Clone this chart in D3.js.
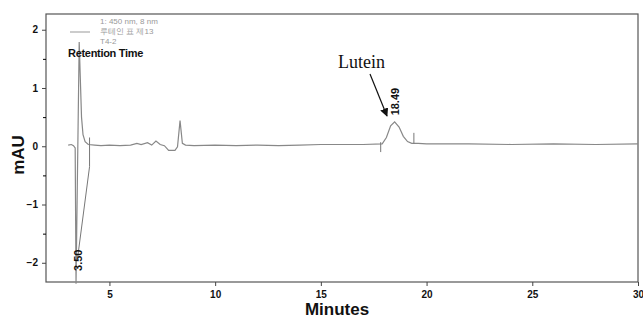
<!DOCTYPE html>
<html>
<head>
<meta charset="utf-8">
<script src="https://cdn.jsdelivr.net/npm/d3@7"></script>
<style>
  body { margin: 0; background: #fff; }
  text { font-family: "Liberation Sans", Arial, sans-serif; }
</style>
</head>
<body>
<div id="chart-area"></div>
<script>
// chromatogram trace: [minutes, mAU]
var trace = [
  [3.05, 0.02], [3.2, 0.03], [3.3, 0.01], [3.38, -0.03], [3.42, -2.36],
  [3.57, 1.79], [3.62, 1.2], [3.68, 0.5], [3.75, 0.2], [3.85, 0.08],
  [4.0, 0.03], [4.3, 0.02], [4.6, 0.01], [5.0, 0.02], [5.5, 0.01],
  [6.0, 0.02], [6.3, 0.05], [6.5, 0.03], [6.8, 0.06], [7.0, 0.02],
  [7.2, 0.09], [7.4, 0.03], [7.6, 0.01], [7.8, -0.07], [8.1, -0.07],
  [8.22, -0.01], [8.34, 0.44], [8.45, 0.05], [8.6, 0.02], [9.0, 0.01],
  [10, 0.02], [11, 0.01], [12, 0.02], [13, 0.01], [14, 0.02], [15, 0.03],
  [16, 0.03], [17, 0.03], [17.9, 0.04], [18.1, 0.15], [18.3, 0.35],
  [18.49, 0.42], [18.7, 0.33], [18.9, 0.17], [19.1, 0.08], [19.3, 0.05],
  [19.6, 0.05], [20, 0.04], [22, 0.04], [24, 0.03], [26, 0.04], [28, 0.03], [30, 0.04]
];

// integration markers drawn by the software
var markers = [
  [[3.5, -1.9], [4.06, -0.35], [4.06, 0.15]],
  [[17.83, 0.07], [17.83, -0.1]],
  [[19.4, 0.05], [19.4, 0.23]]
];

// peak labels
var peaks = [
  {time: 3.50, label: "3.50", y: -2.14},
  {time: 18.49, label: "18.49", y: 0.53}
];

var xTicks = [5, 10, 15, 20, 25, 30];
var yTicks = [-2, -1, 0, 1, 2];
var yMinor = [-1.5, -0.5, 0.5, 1.5];

var legendLines = ["1: 450 nm, 8 nm", "루테인 표 제13", "T4-2"];

var svg = d3.select("#chart-area").append("svg")
    .attr("width", 643)
    .attr("height", 320);

var x = d3.scaleLinear().domain([2, 30]).range([46, 638]);
var y = d3.scaleLinear().domain([-2.33, 2.27]).range([282, 14]);

// plot box
svg.append("rect")
    .attr("x", 46).attr("y", 14)
    .attr("width", 592).attr("height", 268)
    .attr("fill", "none")
    .attr("stroke", "#555")
    .attr("stroke-width", 1.2);

// axes
var xAxis = svg.append("g")
    .attr("transform", "translate(0,282)")
    .call(d3.axisBottom(x).tickValues(xTicks).tickSize(4).tickPadding(5));
var yAxis = svg.append("g")
    .attr("transform", "translate(46,0)")
    .call(d3.axisLeft(y).tickValues(yTicks).tickFormat(d3.format("d"))
        .tickSize(4).tickPadding(4));
svg.append("g")
    .attr("transform", "translate(46,0)")
    .call(d3.axisLeft(y).tickValues(yMinor).tickSize(3).tickFormat(""))
    .select(".domain").remove();

[xAxis, yAxis].forEach(function(a) {
    a.select(".domain").remove();
    a.selectAll("line").attr("stroke", "#444");
    a.selectAll("text")
        .attr("fill", "#111")
        .style("font-size", "10px")
        .style("font-weight", "bold");
});

// trace
var line = d3.line()
    .x(function(d) { return x(d[0]); })
    .y(function(d) { return y(d[1]); });

svg.append("path")
    .datum(trace)
    .attr("d", line)
    .attr("fill", "none")
    .attr("stroke", "#888")
    .attr("stroke-width", 1.2);

svg.selectAll(".marker")
    .data(markers)
    .enter()
    .append("path")
    .attr("class", "marker")
    .attr("d", line)
    .attr("fill", "none")
    .attr("stroke", "#777")
    .attr("stroke-width", 1);

// peak retention labels, rotated
svg.selectAll(".peak-label")
    .data(peaks)
    .enter()
    .append("text")
    .attr("class", "peak-label")
    .attr("transform", function(d) {
        return "translate(" + (x(d.time) + 4) + "," + y(d.y) + ") rotate(-90)";
    })
    .style("font-size", "11px")
    .style("font-weight", "bold")
    .attr("fill", "#111")
    .text(function(d) { return d.label; });

// Lutein annotation
svg.append("text")
    .attr("x", 338).attr("y", 68)
    .style("font-family", "'Liberation Serif', 'Times New Roman', serif")
    .style("font-size", "18px")
    .attr("fill", "#111")
    .text("Lutein");

svg.append("defs").append("marker")
    .attr("id", "arrow")
    .attr("viewBox", "0 0 10 10")
    .attr("refX", 9).attr("refY", 5)
    .attr("markerWidth", 7).attr("markerHeight", 7)
    .attr("orient", "auto")
    .append("path")
    .attr("d", "M0,0 L10,5 L0,10 z")
    .attr("fill", "#111");

svg.append("line")
    .attr("x1", 370).attr("y1", 74)
    .attr("x2", 387).attr("y2", 116)
    .attr("stroke", "#111")
    .attr("stroke-width", 1.2)
    .attr("marker-end", "url(#arrow)");

// legend block
svg.selectAll(".legend")
    .data(legendLines)
    .enter()
    .append("text")
    .attr("class", "legend")
    .attr("x", 100)
    .attr("y", function(d, i) { return 24 + i * 10; })
    .style("font-size", "8px")
    .attr("fill", "#999")
    .text(function(d) { return d; });

svg.append("line")
    .attr("x1", 70).attr("x2", 90)
    .attr("y1", 32).attr("y2", 32)
    .attr("stroke", "#999");

svg.append("text")
    .attr("x", 68).attr("y", 57)
    .style("font-size", "11px")
    .style("font-weight", "bold")
    .style("letter-spacing", "-0.3px")
    .attr("fill", "#111")
    .text("Retention Time");

// axis titles
svg.append("text")
    .attr("x", 337).attr("y", 315)
    .attr("text-anchor", "middle")
    .style("font-size", "17px")
    .style("font-weight", "bold")
    .attr("fill", "#111")
    .text("Minutes");

svg.append("text")
    .attr("transform", "translate(24,155) rotate(-90)")
    .attr("text-anchor", "middle")
    .style("font-size", "17px")
    .style("font-weight", "bold")
    .attr("fill", "#111")
    .text("mAU");
</script>
</body>
</html>
